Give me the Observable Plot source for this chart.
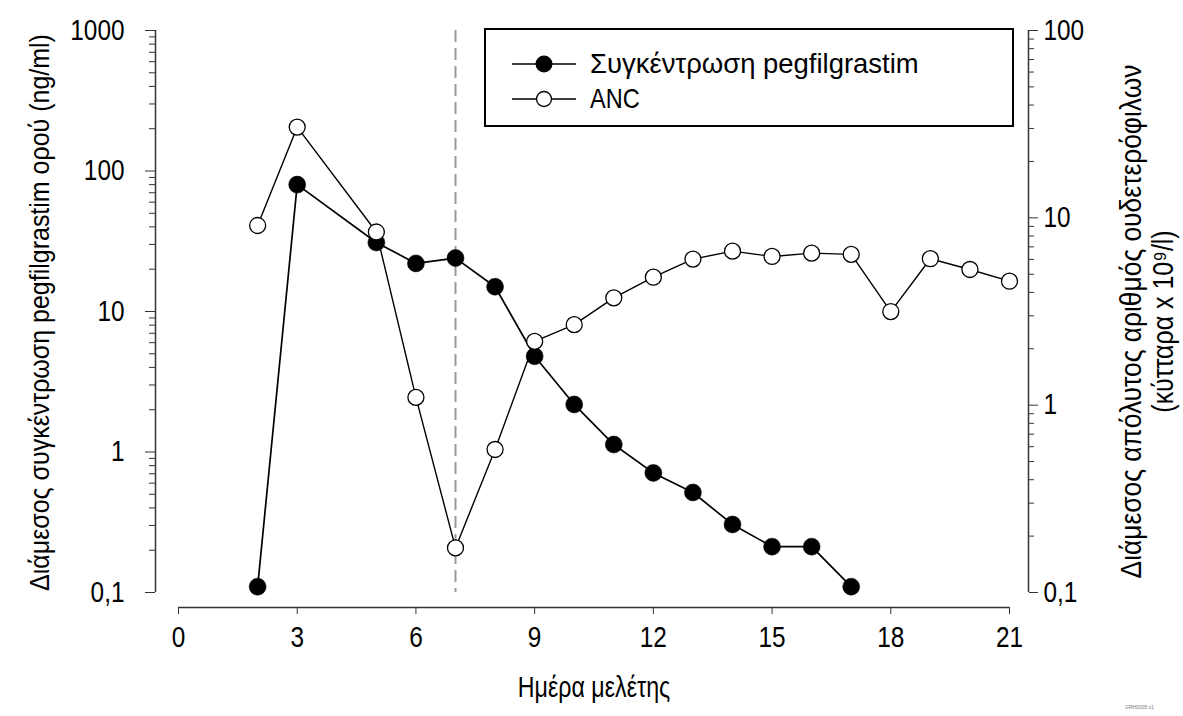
<!DOCTYPE html>
<html>
<head>
<meta charset="utf-8">
<script src="https://cdn.jsdelivr.net/npm/d3@7"></script>
<script src="https://cdn.jsdelivr.net/npm/@observablehq/plot@0.6"></script>
<style>
  html, body { margin: 0; padding: 0; background: #fff; }
  #wrap { position: relative; width: 1183px; height: 716px; overflow: hidden;
    font-family: "Liberation Sans", Arial, sans-serif; }
  #wrap > .layer { position: absolute; left: 0; top: 0; }
  #legend { position: absolute; left: 484px; top: 28px; width: 526px; height: 95px;
    border: 2px solid #000; background: #fff; }
  #legend .row { position: absolute; left: 26px; height: 30px; display: flex; align-items: center; white-space: nowrap; }
  #legend .row span { display: inline-block; font-size: 28px; margin-left: 14px; color: #000;
    transform-origin: left center; }
  #caption { position: absolute; left: 1125px; top: 704px; font-size: 5px; color: #777; }
</style>
</head>
<body>
<div id="wrap">
  <div id="chart1" class="layer"></div>
  <div id="chart2" class="layer"></div>
  <div id="legend">
    <div class="row" style="top:19px">
      <svg width="64" height="20"><line x1="0" y1="10" x2="64" y2="10" stroke="#000" stroke-width="1.7"/><circle cx="32" cy="10" r="8.5" fill="#000"/></svg>
      <span style="transform: scaleX(0.98)">Συγκέντρωση pegfilgrastim</span>
    </div>
    <div class="row" style="top:54px">
      <svg width="64" height="20"><line x1="0" y1="10" x2="64" y2="10" stroke="#000" stroke-width="1.3"/><circle cx="32" cy="10" r="7.5" fill="#fff" stroke="#000" stroke-width="1.3"/></svg>
      <span style="transform: scaleX(0.84)">ANC</span>
    </div>
  </div>
  <div id="caption">GRH0005 v1</div>
</div>
<script>
// ---- data ----
const pegDays = [2, 3, 5, 6, 7, 8, 9, 10, 11, 12, 13, 14, 15, 16, 17];
const pegValues = [0.11, 80, 31, 22, 24, 15, 4.8, 2.18, 1.13, 0.71, 0.515, 0.305, 0.212, 0.212, 0.11];
const ancDays = [2, 3, 5, 6, 7, 8, 9, 10, 11, 12, 13, 14, 15, 16, 17, 18, 19, 20, 21];
const ancValues = [9.1, 30.5, 8.4, 1.10, 0.173, 0.58, 2.19, 2.69, 3.74, 4.82, 6.02, 6.64, 6.22, 6.48, 6.38, 3.16, 6.05, 5.30, 4.59];
const xTicks = [0, 3, 6, 9, 12, 15, 18, 21];
const leftMajor = [0.1, 1, 10, 100, 1000];
const rightMajor = [0.1, 1, 10, 100];
const xTitle = "Ημέρα μελέτης";
const leftTitle = "Διάμεσος συγκέντρωση pegfilgrastim ορού (ng/ml)";
const rightTitleLines = ["Διάμεσος απόλυτος αριθμός ουδετερόφιλων", "(κύτταρα x 10⁹/l)"];
const dashedDay = 7;

const fmt = v => String(v).replace(".", ",");
const minorOf = majors => majors.slice(0, -1).flatMap(m => [2,3,4,5,6,7,8,9].map(k => +(m * k).toPrecision(3)));
const leftMinor = minorOf(leftMajor);
const rightMinor = minorOf(rightMajor);

const peg = pegDays.map((d, i) => ({day: d, v: pegValues[i]}));
const anc = ancDays.map((d, i) => ({day: d, v: ancValues[i]}));

const axisColor = "#333";
const common = {
  width: 1183,
  height: 716,
  marginLeft: 178,
  marginRight: 174,
  marginTop: 30,
  marginBottom: 124,
  style: {fontFamily: '"Liberation Sans", Arial, sans-serif', fontSize: "29px", color: "#000", background: "transparent", overflow: "visible"},
  x: {domain: [0, 21], axis: null}
};

const chart1 = Plot.plot({
  ...common,
  y: {type: "log", domain: [0.1, 1000], axis: null},
  marks: [
    Plot.ruleX([0], {y1: 0.1, y2: 1000, dx: -23, stroke: axisColor, strokeWidth: 1.5}),
    Plot.ruleY([0.1], {x1: 0, x2: 21, dy: 15, stroke: axisColor, strokeWidth: 1.5}),
    Plot.axisY({ticks: leftMinor, tickSize: 6, dx: -23, tickFormat: () => "", label: null, stroke: axisColor}),
    Plot.axisY({ticks: leftMajor, tickSize: 10, dx: -23, tickPadding: 21, tickFormat: fmt, label: null, stroke: axisColor, fill: "#000"}),
    Plot.axisX({ticks: xTicks, tickSize: 7, dy: 15, tickPadding: 12, label: null, stroke: axisColor, fill: "#000", tickFormat: d => String(d)}),
    Plot.text([xTitle], {text: d => d, frameAnchor: "bottom", dy: 104, textAnchor: "middle", fontSize: 29, fill: "#000"}),
    Plot.text([leftTitle], {text: d => d, frameAnchor: "left", dx: -138, dy: 1, rotate: -90, textAnchor: "middle", lineAnchor: "middle", fontSize: 27, fill: "#000"}),
    Plot.ruleX([dashedDay], {stroke: "#999", strokeWidth: 2, strokeDasharray: "12,6"}),
    Plot.line(peg, {x: "day", y: "v", stroke: "#000", strokeWidth: 1.7}),
    Plot.dot(peg, {x: "day", y: "v", r: 8.5, fill: "#000", stroke: "#000", strokeWidth: 0.5})
  ]
});

const chart2 = Plot.plot({
  ...common,
  y: {type: "log", domain: [0.1, 100], axis: null},
  marks: [
    Plot.ruleX([21], {y1: 0.1, y2: 100, dx: 19, stroke: axisColor, strokeWidth: 1.5}),
    Plot.axisY({anchor: "right", ticks: rightMinor, tickSize: 5, dx: 19, tickFormat: () => "", label: null, stroke: axisColor}),
    Plot.axisY({anchor: "right", ticks: rightMajor, tickSize: 9, dx: 19, tickPadding: 6, tickFormat: fmt, label: null, stroke: axisColor, fill: "#000"}),
    Plot.text([rightTitleLines.join("\n")], {text: d => d, frameAnchor: "right", dx: 137, dy: 10, rotate: -90, textAnchor: "middle", lineAnchor: "middle", lineHeight: 1.1, fontSize: 29, fill: "#000"}),
    Plot.line(anc, {x: "day", y: "v", stroke: "#000", strokeWidth: 1.4}),
    Plot.dot(anc, {x: "day", y: "v", r: 8, fill: "#fff", stroke: "#000", strokeWidth: 1.3})
  ]
});

document.getElementById("chart1").appendChild(chart1);
document.getElementById("chart2").appendChild(chart2);

// emulate the condensed face of the original by horizontally condensing glyphs
const squeezeFor = new Map([
  [xTitle, 0.8],
  [leftTitle, 0.925],
  [rightTitleLines[0], 0.91],
  [rightTitleLines[1], 0.86]
]);
const tickSqueeze = 0.84;
function squeeze(svg) {
  svg.querySelectorAll("text").forEach(t => {
    const spans = t.querySelectorAll("tspan");
    const els = spans.length ? Array.from(spans) : [t];
    els.forEach(e => {
      const L = e.getComputedTextLength();
      if (L > 0) {
        const f = squeezeFor.get(e.textContent) ?? tickSqueeze;
        e.setAttribute("textLength", (L * f).toFixed(2));
        e.setAttribute("lengthAdjust", "spacingAndGlyphs");
      }
    });
  });
}
squeeze(chart1);
squeeze(chart2);
</script>
</body>
</html>
